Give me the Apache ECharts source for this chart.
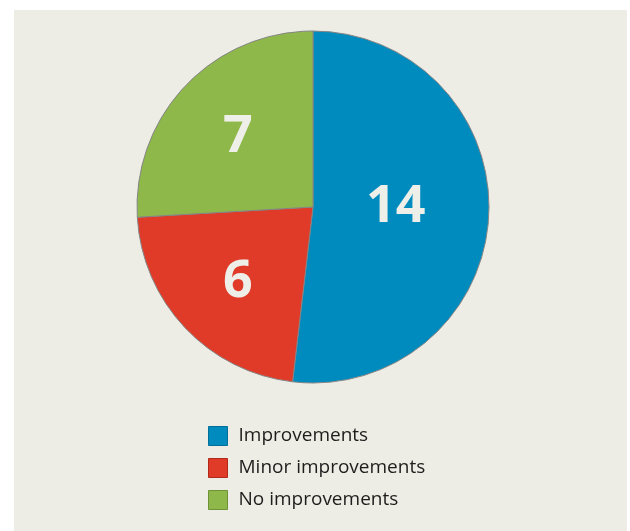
<!DOCTYPE html>
<html>
<head>
<meta charset="utf-8">
<script src="https://cdn.jsdelivr.net/npm/echarts@6/dist/echarts.min.js"></script>
<style>
html, body { margin: 0; padding: 0; background: #ffffff; }
#main { width: 630px; height: 531px; }
</style>
</head>
<body>
<div id="main"></div>
<script>
// 数据
var categories = ['Improvements', 'Minor improvements', 'No improvements'];
var values = [14, 6, 7];
var colors = ['#008bbf', '#e03a28', '#8fb84a'];
var edgeColors = ['#006f9a', '#b02a1c', '#6f9236'];

var chart = echarts.init(document.getElementById('main'));

// 标签位置微调
var labelOffsets = [[-8, -5], [-9, 13], [-9, -7]];

var pieData = categories.map(function (name, i) {
    return {
        name: name,
        value: values[i],
        itemStyle: { color: colors[i] },
        label: { offset: labelOffsets[i] }
    };
});

var option = {
    backgroundColor: '#ffffff',
    animation: false,
    graphic: [{
        type: 'rect',
        z: -10,
        shape: { x: 14, y: 10, width: 613, height: 521 },
        style: { fill: '#edede6' }
    }],
    legend: {
        orient: 'vertical',
        left: 208,
        top: 426,
        padding: 0,
        itemWidth: 19,
        itemHeight: 19,
        itemGap: 12,
        icon: 'rect',
        data: categories.map(function (name, i) {
            return { name: name, itemStyle: { borderColor: edgeColors[i], borderWidth: 1 } };
        }),
        textStyle: {
            fontFamily: 'Open Sans',
            fontSize: 19,
            color: '#1d1d1b',
            padding: [0, 0, 0, 6]
        }
    },
    series: [{
        type: 'pie',
        center: [313, 207],
        radius: 176,
        startAngle: 90,
        clockwise: true,
        silent: true,
        itemStyle: {
            borderColor: '#858585',
            borderWidth: 1
        },
        label: {
            show: true,
            position: 'inside',
            formatter: '{c}',
            fontFamily: 'Open Sans',
            fontWeight: 'bold',
            fontSize: 52,
            color: '#efefe9'
        },
        labelLine: { show: false },
        data: pieData
    }]
};

chart.setOption(option);
</script>
</body>
</html>
